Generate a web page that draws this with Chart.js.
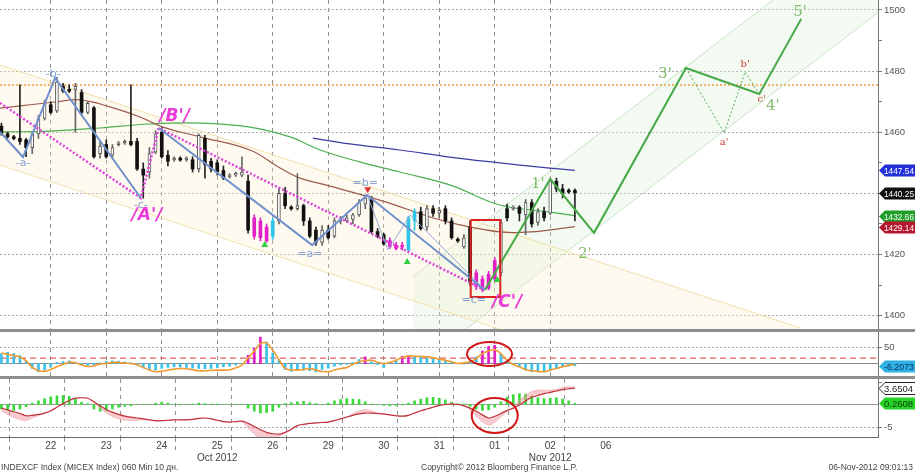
<!DOCTYPE html>
<html>
<head>
<meta charset="utf-8">
<script src="https://cdn.jsdelivr.net/npm/chart.js@4.4.1/dist/chart.umd.min.js"></script>
<style>
  html, body { margin: 0; padding: 0; background: #fff; }
  #wrap { position: relative; width: 915px; height: 474px; overflow: hidden; font-family: "Liberation Sans", Arial, sans-serif; }
  canvas { position: absolute; left: 0; }
  .sep  { position: absolute; left: 0; width: 915px; height: 3px; background: #8e8e8e; }
  .foot { position: absolute; top: 462px; font-size: 8.5px; color: #444; white-space: nowrap; }
</style>
</head>
<body>
<div id="wrap">
  <canvas id="main" width="915" height="329" style="top:0"></canvas>
  <div class="sep" style="top:329px"></div>
  <canvas id="osc" width="915" height="44" style="top:332px"></canvas>
  <div class="sep" style="top:376px"></div>
  <canvas id="macd" width="915" height="95" style="top:379px"></canvas>
  <div class="foot" style="left:1px">INDEXCF Index (MICEX Index) 060 Min 10 дн.</div>
  <div class="foot" style="left:421px">Copyright© 2012 Bloomberg Finance L.P.</div>
  <div class="foot" style="right:2px">06-Nov-2012 09:01:13</div>
</div>
<script>
"use strict";

/* ── AXIS DATA ──────────────────────────── */
const BARS_PER_DAY = 9;
const FIRST_BAR    = -4;                      // last bars of the 19th
const dayLabels    = ["22","23","24","25","26","29","30","31","01","02","06"];
const monthDays    = [3, 9];
const monthText    = ["Oct 2012", "Nov 2012"];
const priceTicks   = [1400,1410,1420,1430,1440,1450,1460,1470,1480,1490,1500];
const oscTicks     = [50];
const macdTicks    = [5, -5];

/* ── CANDLES (hourly, from bar -4 to bar 89) ─ */
const candleOpen = [1462,1459.5,1458.5,1458,
  1457.5,1455,1459.5,1464.5,1469,1467,1475,1474,1474,
  1473,1466.5,1468,1453,1456,1452.5,1456,1456.5,1457,
  1457,1448,1447,1453.5,1460,1452.5,1451,1451.5,1451,
  1451,1448,1458,1450.5,1450,1447.5,1445.5,1446,1446,
  1444,1432,1431,1429,1426,1431,1440,1435.5,1435,
  1436,1431,1428,1424,1428,1426,1431,1431,1431.5,
  1433,1436.5,1438,1427.5,1426.5,1424.5,1423,1422.5,1421.5,
  1431,1434,1429,1435,1433.5,1435,1431,1425,1422.5,
  1429,1414,1412,1409,1412,1414,1435,1435,1435.5,
  1433,1437,1430.5,1434,1433.5,1444,1441.5,1441,1441];
const candleHigh = [1463,1460,1459,1475.5,
  1458,1460,1465.5,1470.5,1470,1478,1476,1475.5,1476,
  1474,1470,1468.5,1457,1457.5,1456,1457,1457.5,1475.5,
  1458,1450,1455,1460.5,1461.5,1454,1452,1452,1452,
  1452,1459.5,1459,1451.5,1451,1449,1446.5,1447,1452,
  1446,1433,1432,1430,1432,1441.5,1442,1436,1446.5,
  1436.5,1432,1429,1429.5,1429.5,1432,1432.5,1433,1433.5,
  1438,1439.5,1439,1428.5,1427,1425.5,1424,1424,1432.5,
  1435,1435.5,1436,1436,1435.5,1436,1432,1425.5,1426.5,
  1431,1415,1413,1414.5,1419,1431.5,1436.5,1436,1436,
  1438,1438,1435,1435.5,1445,1445,1443,1441.5,1441.5];
const candleLow = [1459,1458,1457.5,1456,
  1452,1453,1458,1464,1466,1466.5,1473,1473,1460,
  1466,1466,1451.5,1451.5,1451.5,1451.5,1455.5,1456,1455.5,
  1447.5,1438.5,1445,1453,1451.5,1449,1450.5,1450.5,1450.5,
  1447,1447,1445,1447,1446,1444.5,1445,1445.5,1445.5,
  1427,1425,1424.5,1424,1425,1430,1435,1434.5,1434.5,
  1429.5,1425.5,1423,1423,1425,1425.5,1430,1430.5,1430,
  1432.5,1435,1427,1425.5,1423,1422,1421.5,1421.5,1421,
  1428,1428,1428,1432.5,1432,1430,1425,1424,1422,
  1410,1408.5,1407.8,1408.5,1411,1413,1431,1434.5,1431,
  1426.5,1429,1429.5,1431,1433,1440.5,1438.5,1440,1431];
const candleClose = [1459.5,1458.5,1458,1457,
  1455,1459.5,1464.5,1469.5,1466.5,1476.5,1473.5,1473.5,1475,
  1466.5,1469.5,1452,1455.5,1452,1455,1456.5,1457,1456,
  1448,1446,1453,1459.5,1452,1450.5,1451.5,1451,1451.5,
  1448,1459,1449.5,1448,1447,1445,1446,1446.5,1447,
  1428,1426,1425.5,1424.5,1431,1440,1436,1435,1436,
  1431,1426,1424,1428,1425.5,1431,1431.5,1432,1433,
  1437,1438.5,1427.5,1426,1423.5,1422.5,1422,1423,1432,
  1434,1428.5,1435,1433.5,1434.5,1431,1425.5,1424.5,1425.5,
  1411,1409.5,1408.5,1413.5,1418,1430.5,1432,1435.5,1433.5,
  1437,1430,1434,1432,1444,1441.5,1440,1440.5,1440.25];
const magentaBars = [37,38,39,59,60,61,73,74,75,76];
const cyanBars    = [40,62,63];

/* ── MOVING AVERAGES ────────────────────── */
const maBrownX = [-3.73,5.19,9.24,14.11,18.97,22.7,28.7,36.8,41.68,44.92,49.78,58.38,66.0,70.87,77.35,82.22,89.5];
const maBrownY = [1467.9,1469.9,1470.6,1468.3,1465.0,1461.7,1458.5,1454.2,1448.3,1445.0,1442.4,1437.5,1432.3,1429.7,1427.4,1427.4,1429.14];
const maGreenX = [-3.73,4.38,12.49,20.6,28.7,36.8,43.3,48.2,54.6,61.1,69.2,77.35,85.5,89.5];
const maGreenY = [1460.1,1460.4,1461.4,1462.7,1463.0,1461.7,1458.5,1454.2,1450.3,1447.0,1442.8,1436.2,1433.9,1432.66];
const maNavyX  = [47.0,53.0,61.1,69.2,77.35,83.8,89.5];
const maNavyY  = [1458.1,1456.2,1454.2,1451.9,1450.0,1448.6,1447.54];

/* ── WAVE DRAWINGS ──────────────────────── */
const wave1X   = [-3.73, 0, 5.2, 19.1];
const wave1Y   = [1460.1, 1451.9, 1477.8, 1438.5];
const wave2X   = [22.0, 46.9, 55.8, 74.9];
const wave2Y   = [1461.4, 1423.1, 1439.5, 1408.4];
const subWaveX = [55.8, 59.2, 62.8, 74.9];
const subWaveY = [1439.5, 1421.5, 1432.9, 1408.4];
const bigWaveX = [-3.73, 19.1, 22.0, 74.9];
const bigWaveY = [1469.6, 1438.5, 1461.4, 1408.4];
const impulseX = [74.9, 85.5, 92.6, 107.5, 119.4, 126.2];
const impulseY = [1408.4, 1444.7, 1427.1, 1481.0, 1472.5, 1497.1];
const corrX    = [107.5, 113.7, 117.1, 119.4];
const corrY    = [1481.0, 1459.8, 1479.7, 1472.5];
const boxX     = [72.6, 77.4, 77.4, 72.6, 72.6];
const boxY     = [1431.3, 1431.3, 1406.1, 1406.1, 1431.3];
const resistLevel = 1475.5;

const yellowX      = [-3.73, 126.0];
const yellowTop    = [1482.0, 1396.0];
const yellowBottom = [1449.3, 1363.3];
const greenChX     = [63.2, 138.65];
const greenTop     = [1412.7, 1529.7];
const greenBottom  = [1382.2, 1499.2];

const triUpX = [39.2, 62.3, 76.9];
const triUpY = [1423.1, 1417.6, 1411.7];
const triDnX = [55.9];
const triDnY = [1441.4];

const noteText = ["-a-","-b-","-c-","=a=","=b=","=c=","/A'/","/B'/","/C'/","1'","2'","3'","4'","5'","a'","b'","c'"];
const noteX    = [0, 4.9, 19.1, 46.5, 55.5, 73.1, 20.1, 24.6, 78.5, 83.5, 91.1, 104.1, 121.6, 126.0, 113.7, 117.1, 119.8];
const noteY    = [1450.0,1479.1,1436.2,1420.2,1443.4,1405.1,1432.9,1465.0,1404.2,1443.1,1420.2,1479.1,1468.6,1499.3,1456.8,1482.3,1470.6];
const noteKind = ["blue","blue","blue","blue","blue","blue","wave","wave","wave","green","green","green","green","green","red","red","red"];

const mainTagValues = [1447.54, 1440.25, 1432.66, 1429.14];

/* ── OSCILLATOR PANEL ───────────────────── */
const oscHist = [30,34,30,24,
  8,-15,-25,-20,-10,3,6,8,4,
  -4,-6,-5,2,6,8,7,5,2,
  -5,-12,-18,-20,-15,-12,-10,-11,-12,
  -14,-15,-16,-15,-13,-10,-8,-5,0,
  25,47,80,65,32,10,-18,-24,-20,
  -20,-22,-25,-18,-14,-8,-4,-2,3,
  12,20,5,-3,-12,4,10,22,24,
  20,22,18,15,12,8,4,0,-2,
  5,20,38,52,55,30,12,0,-10,
  -20,-25,-24,-22,-20,-15,-10,-8,-6.2];
const oscSmooth = [32,28,24,20,
  8,-12,-22,-24,-18,-10,-3,4,2,
  -4,-9,-7,-2,0,3,3,1,0,
  -4,-12,-20,-25,-23,-20,-17,-15,-16,
  -19,-22,-22,-21,-20,-20,-19,-13,-5,
  17,38,60,62,40,12,-15,-20,-20,
  -18,-15,-20,-24,-25,-20,-15,-12,-2,
  5,9,10,4,0,3,10,18,23,
  22,21,20,17,13,10,5,0,2,
  5,15,30,38,42,30,10,-3,-10,
  -18,-22,-24,-25,-20,-15,-10,-5,-3];
const oscHotBars = [36,37,38,55,61,62,74,75,76];
const oscLevel   = 16;
const oscTagValue = -6.2073;

/* ── MACD PANEL ─────────────────────────── */
const macdLine = [-0.8,-1.2,-1.6,-2.0,
  -2.5,-2.4,-2.2,-1.9,-1.4,-0.6,0.2,0.9,1.4,
  1.5,1.4,0.6,-0.3,-1.1,-1.7,-2.2,-2.6,-2.8,
  -3.0,-3.2,-3.4,-3.6,-3.6,-3.5,-3.4,-3.4,-3.4,
  -3.3,-3.1,-3.0,-3.2,-3.5,-3.8,-3.9,-3.8,-3.7,
  -4.2,-4.9,-5.6,-6.2,-6.5,-6.6,-6.2,-5.5,-4.7,
  -4.4,-4.2,-4.1,-4.0,-3.9,-3.6,-3.2,-2.8,-2.4,
  -2.1,-1.9,-1.9,-2.0,-2.1,-2.3,-2.5,-2.6,-2.4,
  -1.9,-1.4,-1.0,-0.6,-0.2,0.0,0.1,0.0,-0.3,
  -0.8,-1.5,-2.3,-3.0,-2.6,-2.0,-1.3,-0.8,-0.1,
  0.8,1.6,2.0,2.4,2.7,3.0,3.3,3.5,3.6504];
const macdSignal = [-1.5,-2.2,-2.9,-3.4,
  -3.6,-3.0,-2.5,-2.0,-1.4,-0.6,0.2,0.9,1.4,
  1.5,1.4,0.4,-0.8,-1.9,-2.7,-3.2,-3.5,-3.6,
  -3.5,-3.4,-3.4,-3.6,-3.6,-3.5,-3.4,-3.4,-3.4,
  -3.3,-3.1,-3.0,-3.2,-3.5,-3.8,-3.9,-3.8,-3.9,
  -5.2,-6.6,-7.5,-7.8,-7.6,-7.1,-6.4,-5.6,-4.7,
  -4.4,-4.2,-4.1,-4.0,-3.9,-3.6,-3.2,-2.8,-2.0,
  -1.4,-1.1,-1.4,-1.9,-2.1,-2.3,-2.5,-2.6,-2.4,
  -1.9,-1.4,-1.0,-0.6,-0.2,0.0,0.1,0.0,-0.3,
  -1.2,-2.6,-3.9,-4.6,-4.0,-2.8,-1.6,-0.8,0.9,
  2.0,2.9,3.2,3.2,3.2,3.4,3.8,4.0,3.9];
const macdHist = [-1.0,-1.2,-1.3,-1.0,
  -0.5,0.3,0.8,1.3,1.7,1.9,2.0,1.8,1.2,
  0.5,0.2,-1.0,-1.5,-1.4,-1.0,-0.6,-0.4,-0.3,
  0,0,0,0.3,0.5,0.3,0,-0.1,0,
  0.1,0.3,0.2,0.1,0.1,0,0,0,0,
  -0.8,-1.5,-1.9,-1.8,-1.5,-0.6,0.2,0.4,0.6,
  0.7,0.4,0.2,0,0.3,0.8,1.1,1.3,1.2,
  1.1,0.6,0.1,0,-0.2,-0.3,-0.2,-0.1,0.3,
  0.8,1.2,1.5,1.6,1.4,1.0,0.5,0.2,0.1,
  -0.4,-1.0,-1.3,-1.2,-0.6,0.6,1.6,2.2,2.4,
  2.3,1.9,1.5,1.3,1.4,1.5,1.2,0.8,0.2608];

/* ── LAYOUT CONSTANTS ───────────────────── */
const X_MIN  = -3.73;
const X_MAX  = 138.65;
const AXIS_W = 37;
const FONT   = "'Liberation Sans', Arial, sans-serif";

/* ── HELPERS ────────────────────────────── */
const pts    = (xs, ys) => xs.map((x, k) => ({ x, y: ys[k] }));
const flat   = v => [{ x: X_MIN, y: v }, { x: X_MAX, y: v }];
const barIdx = candleOpen.map((_, k) => FIRST_BAR + k);
const barX   = i => i + 0.5;
const near   = (a, b) => Math.abs(a - b) < 1e-6;
const isEdge = v => near(v / BARS_PER_DAY, Math.round(v / BARS_PER_DAY));

function lineSet(data, color, width, extra) {
  return Object.assign({
    type: "line", data, borderColor: color, borderWidth: width,
    pointRadius: 0, fill: false, tension: 0
  }, extra || {});
}

function xAxis(withLabels) {
  const tickOf = c => (c.tick && isEdge(c.tick.value)) ? "#8f8f8f" : "transparent";
  return {
    type: "linear", min: X_MIN, max: X_MAX, offset: false, position: "bottom",
    afterBuildTicks: s => {
      const t = [];
      for (let k = 0; k <= 10; k++) {
        t.push({ value: k * BARS_PER_DAY });
        if (withLabels) t.push({ value: k * BARS_PER_DAY + BARS_PER_DAY / 2 });
      }
      s.ticks = t;
    },
    afterFit: s => { s.height = withLabels ? 37 : 0; s.paddingLeft = 0; s.paddingRight = 0; },
    grid: { color: tickOf, tickColor: tickOf, drawTicks: withLabels, tickLength: 14, tickBorderDash: [4, 4] },
    border: { display: withLabels, color: "#666", dash: [4, 4] },
    ticks: {
      display: withLabels, autoSkip: false, maxRotation: 0, padding: -11,
      color: "#444", font: { family: FONT, size: 10 },
      callback: v => {
        const k = (v - BARS_PER_DAY / 2) / BARS_PER_DAY;
        if (!near(k, Math.round(k))) return "";
        const d = Math.round(k);
        const m = monthDays.indexOf(d);
        return m >= 0 ? [dayLabels[d], monthText[m]] : (dayLabels[d] || "");
      }
    }
  };
}

function yAxis(min, max, ticks, showLabel) {
  return {
    type: "linear", position: "right", min, max, beginAtZero: false,
    afterBuildTicks: s => { s.ticks = ticks.map(v => ({ value: v })); },
    afterFit: s => { s.width = AXIS_W; s.paddingTop = 0; s.paddingBottom = 0; },
    grid: {
      color: c => (c.tick && showLabel(c.tick.value)) ? "#a9a9a9" : "transparent",
      tickColor: "#777", tickLength: 4
    },
    border: { color: "#777", dash: [2, 2] },
    ticks: {
      padding: 2, color: "#555", font: { family: FONT, size: 9.5 },
      callback: v => showLabel(v) ? String(v) : ""
    }
  };
}

/* ── PLUGINS ────────────────────────────── */
const tagPlugin = {
  id: "tags",
  afterDraw(chart, args, opts) {
    const { ctx } = chart;
    const y = chart.scales.y;
    const left = chart.chartArea.right + 1;
    (opts.items || []).forEach(t => {
      const py = Math.round(y.getPixelForValue(t.value)) + 0.5;
      ctx.save();
      ctx.beginPath();
      ctx.moveTo(left, py);
      ctx.lineTo(left + 6, py - 6);
      ctx.lineTo(916, py - 6);
      ctx.lineTo(916, py + 6);
      ctx.lineTo(left + 6, py + 6);
      ctx.closePath();
      ctx.fillStyle = t.bg;
      ctx.fill();
      if (t.edge) { ctx.strokeStyle = t.edge; ctx.lineWidth = 1; ctx.stroke(); }
      ctx.fillStyle = t.fg;
      ctx.font = "9.5px " + FONT;
      ctx.textBaseline = "middle";
      // squeeze the value into the tag like the terminal does
      const room = 914 - (left + 5);
      const w = ctx.measureText(t.text).width;
      ctx.translate(left + 5, py + 0.5);
      ctx.scale(Math.min(1, room / w), 1);
      ctx.fillText(t.text, 0, 0);
      ctx.restore();
    });
  }
};

const NOTE_STYLE = {
  blue:  { font: "11px 'DejaVu Sans'", color: "#86a2d2" },
  wave:  { font: "italic bold 17px 'DejaVu Sans'", color: "#ea3ad8" },
  green: { font: "15px 'DejaVu Serif'", color: "#83bd6c" },
  red:   { font: "10px 'DejaVu Serif'", color: "#cc3b3b" }
};

const notePlugin = {
  id: "notes",
  afterDatasetsDraw(chart) {
    const { ctx, scales: { x, y } } = chart;
    ctx.save();
    ctx.textAlign = "center";
    ctx.textBaseline = "middle";
    noteText.forEach((txt, k) => {
      const st = NOTE_STYLE[noteKind[k]];
      ctx.font = st.font;
      ctx.fillStyle = st.color;
      ctx.fillText(txt, x.getPixelForValue(noteX[k]), y.getPixelForValue(noteY[k]));
    });
    ctx.restore();
  }
};

const ringPlugin = {
  id: "rings",
  afterDatasetsDraw(chart, args, opts) {
    const { ctx, scales: { x, y } } = chart;
    const cx = x.getPixelForValue(opts.cx), cy = y.getPixelForValue(opts.cy);
    const rx = Math.abs(x.getPixelForValue(opts.cx + opts.rx) - cx);
    const ry = Math.abs(y.getPixelForValue(opts.cy + opts.ry) - cy);
    ctx.save();
    ctx.beginPath();
    ctx.ellipse(cx, cy, rx, ry, 0, 0, Math.PI * 2);
    ctx.strokeStyle = "#d01818";
    ctx.lineWidth = 2;
    ctx.stroke();
    ctx.restore();
  }
};

const baseOptions = () => ({
  responsive: false, animation: false, devicePixelRatio: 1,
  layout: { padding: 0, autoPadding: false },
  events: [],
  plugins: { legend: { display: false }, tooltip: { enabled: false } }
});

/* ── MAIN PRICE PANEL ───────────────────── */
const toneOf = i => magentaBars.includes(i) ? "#e01fc8" : cyanBars.includes(i) ? "#2cc3e8" : null;
const isUp   = k => candleClose[k] >= candleOpen[k];

const wickData = barIdx.map((i, k) => ({ x: barX(i), y: [candleLow[k], candleHigh[k]] }));
const bodyData = barIdx.map((i, k) => {
  let lo = Math.min(candleOpen[k], candleClose[k]);
  let hi = Math.max(candleOpen[k], candleClose[k]);
  if (hi - lo < 0.6) { const m = (hi + lo) / 2; lo = m - 0.3; hi = m + 0.3; }
  return { x: barX(i), y: [lo, hi] };
});
const bodyFill   = barIdx.map((i, k) => toneOf(i) || (isUp(k) ? "#ffffff" : "#111111"));
const bodyEdge   = barIdx.map((i, k) => toneOf(i) || (isUp(k) ? "#555555" : "#111111"));
const bodyStroke = barIdx.map((i, k) => (!toneOf(i) && isUp(k)) ? 1 : 0);
const wickColor  = barIdx.map((i, k) => toneOf(i) || (isUp(k) ? "#666666" : "#222222"));

const mainOptions = baseOptions();
mainOptions.scales = {
  x: xAxis(false),
  y: yAxis(1395.65, 1503.27, priceTicks, v => v % 20 === 0)
};
mainOptions.plugins.tags = {
  items: [
    { value: mainTagValues[0], text: mainTagValues[0].toFixed(2), bg: "#2130d8", fg: "#fff" },
    { value: mainTagValues[1], text: mainTagValues[1].toFixed(2), bg: "#111111", fg: "#fff" },
    { value: mainTagValues[2], text: mainTagValues[2].toFixed(2), bg: "#1f9e2a", fg: "#fff" },
    { value: mainTagValues[3], text: mainTagValues[3].toFixed(2), bg: "#b3182e", fg: "#fff" }
  ]
};

new Chart(document.getElementById("main"), {
  type: "bar",
  data: {
    datasets: [
      lineSet(pts(yellowX, yellowTop), "#f1dfa8", 1, { fill: "+1", backgroundColor: "rgba(252,240,205,0.3)", order: 9 }),
      lineSet(pts(yellowX, yellowBottom), "#f1dfa8", 1, { order: 9 }),
      lineSet(pts(greenChX, greenTop), "#c4e4c4", 1, { fill: "+1", backgroundColor: "rgba(212,238,212,0.3)", order: 9 }),
      lineSet(pts(greenChX, greenBottom), "#c4e4c4", 1, { order: 9 }),
      lineSet(flat(resistLevel), "#e8a040", 1.5, { borderDash: [2, 2], order: 8 }),
      lineSet(pts(maBrownX, maBrownY), "#9c5b4c", 1.2, { tension: 0.4, order: 7 }),
      lineSet(pts(maGreenX, maGreenY), "#4caf50", 1.2, { tension: 0.4, order: 7 }),
      lineSet(pts(maNavyX, maNavyY), "#3c3ca4", 1.2, { tension: 0.4, order: 7 }),
      { type: "bar", data: wickData, backgroundColor: wickColor, barThickness: 1, grouped: false, order: 6 },
      { type: "bar", data: bodyData, backgroundColor: bodyFill, borderColor: bodyEdge, borderWidth: bodyStroke,
        borderSkipped: false, barThickness: 3, grouped: false, order: 5 },
      lineSet(pts(wave1X, wave1Y), "#7191cc", 2, { order: 3 }),
      lineSet(pts(wave2X, wave2Y), "#7191cc", 2, { order: 3 }),
      lineSet(pts(subWaveX, subWaveY), "#94acd8", 1, { order: 3 }),
      lineSet(pts(bigWaveX, bigWaveY), "#e040e0", 2.5, { borderDash: [2, 2], order: 3 }),
      lineSet(pts(impulseX, impulseY), "#46a846", 2, { order: 3 }),
      lineSet(pts(corrX, corrY), "#5aaa5a", 1, { borderDash: [2, 2], order: 3 }),
      lineSet(pts(boxX, boxY), "#dd2222", 2, { order: 2 }),
      { type: "line", showLine: false, data: pts(triUpX, triUpY), pointStyle: "triangle", pointRadius: 4,
        pointBackgroundColor: "#2fcf3f", pointBorderWidth: 0, order: 1 },
      { type: "line", showLine: false, data: pts(triDnX, triDnY), pointStyle: "triangle", pointRadius: 4,
        pointRotation: 180, pointBackgroundColor: "#e03030", pointBorderWidth: 0, order: 1 }
    ]
  },
  options: mainOptions,
  plugins: [tagPlugin, notePlugin]
});

/* ── OSCILLATOR ─────────────────────────── */
const oscOptions = baseOptions();
oscOptions.scales = {
  x: xAxis(false),
  y: yAxis(-37.9, 95.5, oscTicks, v => v === 50)
};
oscOptions.plugins.tags  = { items: [{ value: oscTagValue, text: oscTagValue.toFixed(4), bg: "#2fb2e6", fg: "#0d2f66" }] };
oscOptions.plugins.rings = { cx: 75.65, cy: 28.8, rx: 3.65, ry: 36.4 };

new Chart(document.getElementById("osc"), {
  type: "bar",
  data: {
    datasets: [
      lineSet(flat(0), "#8a8a8a", 1.2, { order: 6 }),
      lineSet(flat(oscLevel), "#e06060", 1.2, { borderDash: [6, 4], order: 5 }),
      { type: "bar", data: barIdx.map((i, k) => ({ x: barX(i), y: [0, oscHist[k]] })),
        backgroundColor: barIdx.map(i => oscHotBars.includes(i) ? "#e01fc8" : "#3cc0e8"),
        barThickness: 2, grouped: false, order: 4 },
      lineSet(barIdx.map((i, k) => ({ x: barX(i), y: oscSmooth[k] })), "#f29a2e", 1.6, { tension: 0.35, order: 1 })
    ]
  },
  options: oscOptions,
  plugins: [tagPlugin, ringPlugin]
});

/* ── MACD ───────────────────────────────── */
const macdOptions = baseOptions();
macdOptions.scales = {
  x: xAxis(true),
  y: yAxis(-7.222, 5.667, macdTicks, v => v === -5)
};
macdOptions.plugins.tags = {
  items: [
    { value: macdLine[macdLine.length - 1], text: macdLine[macdLine.length - 1].toFixed(4), bg: "#ffffff", fg: "#222", edge: "#222" },
    { value: macdHist[macdHist.length - 1], text: macdHist[macdHist.length - 1].toFixed(4), bg: "#25d425", fg: "#10380f" }
  ]
};
macdOptions.plugins.rings = { cx: 76.5, cy: -2.44, rx: 3.73, ry: 3.89 };

new Chart(document.getElementById("macd"), {
  type: "bar",
  data: {
    datasets: [
      lineSet(flat(0), "#9a9a9a", 1.2, { order: 6 }),
      { type: "bar", data: barIdx.map((i, k) => ({ x: barX(i), y: [0, macdHist[k]] })),
        backgroundColor: "#3ad83a", barThickness: 2, grouped: false, order: 4 },
      lineSet(barIdx.map((i, k) => ({ x: barX(i), y: macdLine[k] })), "#c0303a", 1.2, { tension: 0.3, order: 1 }),
      lineSet(barIdx.map((i, k) => ({ x: barX(i), y: macdSignal[k] })), "rgba(232,150,160,0.55)", 0.8,
        { tension: 0.3, fill: "-1", backgroundColor: "rgba(240,140,150,0.45)", order: 2 })
    ]
  },
  options: macdOptions,
  plugins: [tagPlugin, ringPlugin]
});
</script>
</body>
</html>
